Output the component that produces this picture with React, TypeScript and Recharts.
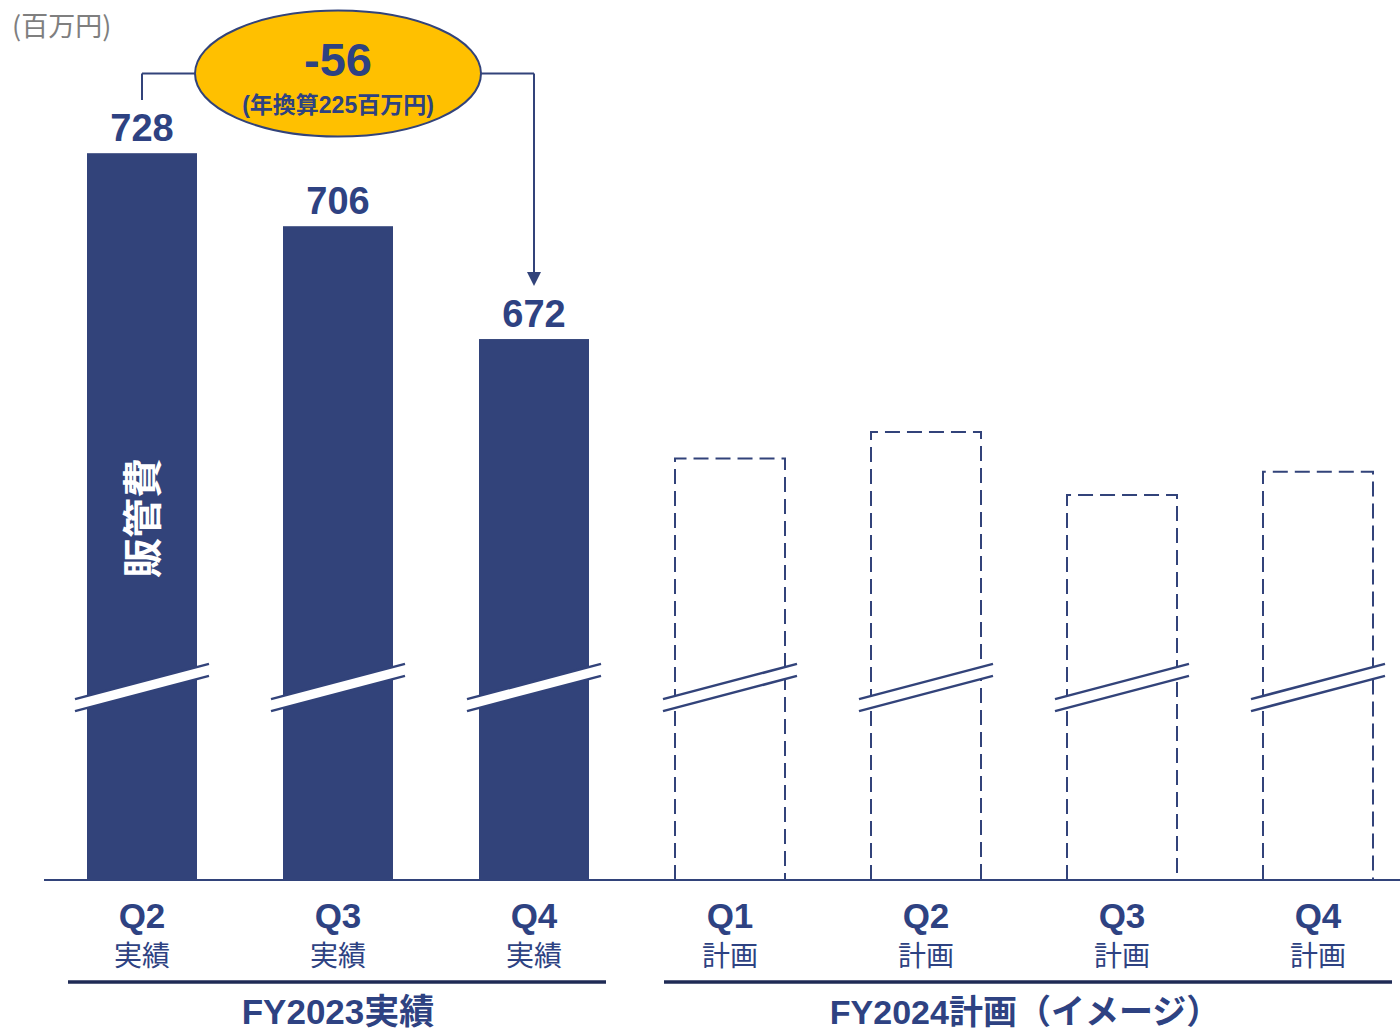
import React from "react"
import {
    BarChart,
    Bar,
    XAxis,
    YAxis,
    LabelList,
    ReferenceLine,
    ReferenceDot,
} from "recharts"

const fiscalYears = ["FY2023", "FY2023", "FY2023", "FY2024", "FY2024", "FY2024", "FY2024"]
const quarters = ["Q2", "Q3", "Q4", "Q1", "Q2", "Q3", "Q4"]
const phases = ["実績", "実績", "実績", "計画", "計画", "計画", "計画"]
const sgaValues = [728, 706, 672, 636, 644, 625, 632]
const isPlan = [false, false, false, true, true, true, true]
const groupLabels = ["FY2023実績", "FY2024計画（イメージ）"]

const deltaText = "-56"
const annualText = "(年換算225百万円)"
const seriesName = "販管費"
const unitText = "(百万円)"

const Y_MIN = 509
const Y_MAX = 760
const BREAK_VALUE = 567
const CONNECTOR_Y = 752
const CONNECTOR_START = 744
const ARROW_TIP = 688

const NAVY = "#32437A"
const TEXT = "#2E4282"
const FONT = "'Liberation Sans', Arial, 'Noto Sans CJK JP', sans-serif"
const JP = "'Noto Sans CJK JP', 'Liberation Sans', sans-serif"

const data = quarters.map((q, i) => ({
    id: `${fiscalYears[i]}-${q}`,
    quarter: q,
    phase: phases[i],
    value: sgaValues[i],
    plan: isPlan[i],
}))

const BarShape = (props: any) => {
    const { x, y, width, height, payload, index } = props
    const v = payload.value
    const breakY = y + (height * (v - BREAK_VALUE)) / (v - Y_MIN)
    const cx = x + width / 2
    const ext = 12
    const x1 = x - ext
    const x2 = x + width + ext
    const slope = 35 / 133
    const yl = breakY + (cx - x1) * slope
    const yr = breakY - (x2 - cx) * slope
    const gap = 6
    return (
        <g>
            {payload.plan ? (
                <path
                    d={`M${x},${y + height} L${x},${y} L${x + width},${y} L${x + width},${y + height}`}
                    fill="none"
                    stroke={NAVY}
                    strokeWidth={2}
                    strokeDasharray="15 7"
                />
            ) : (
                <rect x={x} y={y} width={width} height={height} fill={NAVY} />
            )}
            <polygon
                points={`${x1},${yl - gap} ${x2},${yr - gap} ${x2},${yr + gap} ${x1},${yl + gap}`}
                fill="#fff"
            />
            <line x1={x1} y1={yl - gap} x2={x2} y2={yr - gap} stroke={NAVY} strokeWidth={2.5} />
            <line x1={x1} y1={yl + gap} x2={x2} y2={yr + gap} stroke={NAVY} strokeWidth={2.5} />
            {index === 0 && (
                <text
                    x={cx - 2}
                    y={518}
                    transform={`rotate(-90 ${cx - 2} 518)`}
                    textAnchor="middle"
                    dominantBaseline="central"
                    fill="#fff"
                    fontFamily={JP}
                    fontWeight={700}
                    fontSize={40}
                >
                    {seriesName}
                </text>
            )}
        </g>
    )
}

const ValueLabel = (props: any) => {
    const { x, y, width, value, index } = props
    if (isPlan[index]) return null
    return (
        <text
            x={x + width / 2}
            y={y - 12}
            textAnchor="middle"
            fill={TEXT}
            fontFamily={FONT}
            fontWeight={700}
            fontSize={38}
        >
            {value}
        </text>
    )
}

const CategoryTick = (props: any) => {
    const { x, y, index } = props
    const first = index === 0 || fiscalYears[index - 1] !== fiscalYears[index]
    const last = index === fiscalYears.length - 1 || fiscalYears[index + 1] !== fiscalYears[index]
    const lx1 = first ? x - (index === 0 ? 74 : 66) : x - 98
    const lx2 = last ? x + (index === fiscalYears.length - 1 ? 74 : 72) : x + 98
    return (
        <g>
            <text x={x} y={y + 40} textAnchor="middle" fill={TEXT} fontFamily={FONT} fontWeight={700} fontSize={35}>
                {quarters[index]}
            </text>
            <text x={x} y={y + 78} textAnchor="middle" fill={TEXT} fontFamily={JP} fontSize={28}>
                {phases[index]}
            </text>
            <line x1={lx1} y1={y + 94} x2={lx2} y2={y + 94} stroke="#1F2B55" strokeWidth={3.5} />
            {index === 1 && (
                <text x={x} y={y + 136} textAnchor="middle" fill={TEXT} fontFamily={FONT} fontWeight={700} fontSize={35}>
                    {groupLabels[0]}
                </text>
            )}
            {index === 4 && (
                <text x={x + 99} y={y + 136} textAnchor="middle" fill={TEXT} fontFamily={FONT} fontWeight={700} fontSize={34}>
                    {groupLabels[1]}
                </text>
            )}
        </g>
    )
}

const Bubble = (props: any) => {
    const { cx, cy } = props
    return (
        <g>
            <ellipse cx={cx} cy={cy} rx={143} ry={63} fill="#FFC000" stroke={NAVY} strokeWidth={2} />
            <text x={cx} y={cy + 2} textAnchor="middle" fill={TEXT} fontFamily={FONT} fontWeight={700} fontSize={47}>
                {deltaText}
            </text>
            <text x={cx} y={cy + 39} textAnchor="middle" fill={TEXT} fontFamily={FONT} fontWeight={700} fontSize={23}>
                {annualText}
            </text>
        </g>
    )
}

const ArrowHead = (props: any) => {
    const { cx, cy } = props
    return <polygon points={`${cx - 7},${cy - 14} ${cx + 7},${cy - 14} ${cx},${cy}`} fill={NAVY} />
}

export default function App() {
    return (
        <div
            style={{
                position: "absolute",
                left: 0,
                top: 0,
                width: 1400,
                height: 1032,
                overflow: "hidden",
                background: "#fff",
            }}
        >
            <div
                style={{
                    position: "absolute",
                    left: 12,
                    top: 5,
                    fontFamily: JP,
                    fontSize: 27,
                    color: "#7F7F7F",
                }}
            >
                {unitText}
            </div>
            <BarChart
                width={1420}
                height={1032}
                data={data}
                margin={{ top: 47, right: 4, bottom: 0, left: 44 }}
                barSize={110}
            >
                <XAxis
                    dataKey="id"
                    tickLine={false}
                    axisLine={{ stroke: NAVY, strokeWidth: 2 }}
                    tick={<CategoryTick />}
                    interval={0}
                    height={152}
                />
                <YAxis hide domain={[Y_MIN, Y_MAX]} allowDataOverflow />
                <ReferenceLine
                    ifOverflow="visible"
                    segment={[{ x: data[0].id, y: CONNECTOR_START }, { x: data[0].id, y: CONNECTOR_Y }]}
                    stroke={NAVY}
                    strokeWidth={2}
                />
                <ReferenceLine
                    ifOverflow="visible"
                    segment={[{ x: data[0].id, y: CONNECTOR_Y }, { x: data[2].id, y: CONNECTOR_Y }]}
                    stroke={NAVY}
                    strokeWidth={2}
                />
                <ReferenceLine
                    ifOverflow="visible"
                    segment={[{ x: data[2].id, y: CONNECTOR_Y }, { x: data[2].id, y: ARROW_TIP + 3 }]}
                    stroke={NAVY}
                    strokeWidth={2}
                />
                <Bar dataKey="value" shape={<BarShape />} isAnimationActive={false}>
                    <LabelList dataKey="value" content={<ValueLabel />} />
                </Bar>
                <ReferenceDot x={data[2].id} y={ARROW_TIP} ifOverflow="visible" shape={<ArrowHead />} />
                <ReferenceDot x={data[1].id} y={CONNECTOR_Y} ifOverflow="visible" shape={<Bubble />} />
            </BarChart>
        </div>
    )
}
